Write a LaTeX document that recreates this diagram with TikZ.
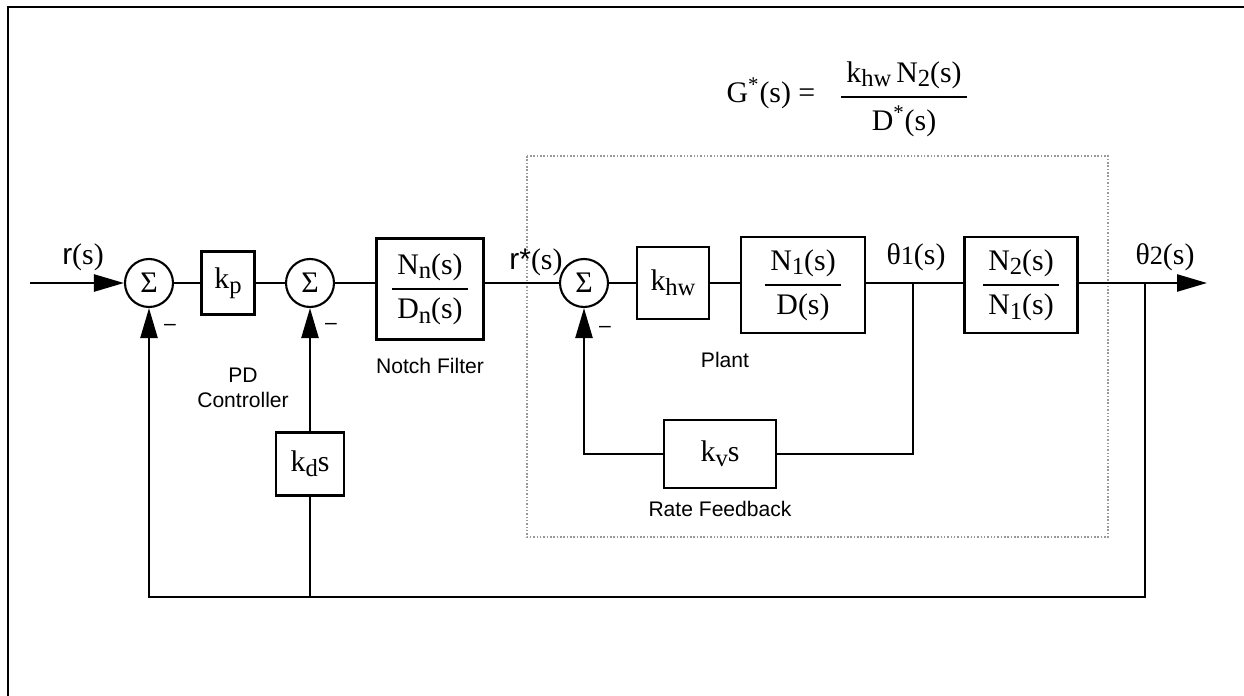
\documentclass[tikz,border=0pt]{standalone}
\usepackage{fontspec}
\usepackage{amsmath}
\setmainfont{Liberation Serif}
\newfontfamily\labelfont{Liberation Sans}
\usetikzlibrary{positioning}
\usetikzlibrary{arrows.meta}

\newcommand{\lo}[1]{\raisebox{-0.35ex}{\fontsize{14}{14}\selectfont #1}}
\newcommand{\bfrac}[2]{$\genfrac{}{}{1.4pt}{0}{\text{\,#1\,}}{\text{\,#2\,}}$}

\begin{document}
\begin{tikzpicture}[x=0.02cm, y=-0.02cm, line width=1.4pt,
    every node/.style={font=\fontsize{17}{20}\selectfont},
    blk/.style={draw, inner sep=0pt},
    sumnode/.style={draw, circle, minimum size=0.96cm, inner sep=0pt, line width=1.2pt},
    lbl/.style={font=\labelfont\fontsize{12}{14}\selectfont, align=center},
    plantbox/.style={draw=gray!80, densely dotted, line width=0.9pt},
    arr/.style={-{Triangle[length=0.6cm, width=0.34cm]}}]
    \useasboundingbox (0,0) rectangle (1244,696);
    \draw[line width=1.7pt] (8,696) -- (8,7) -- (1244,7);
    \draw[plantbox] (527,156) rectangle (1108,537);

    % forward path
    \node[sumnode] (s1) at (149,283) {Σ};
    \node[blk, minimum width=1.06cm, minimum height=1.26cm] (kp) at (228,283) {k\lo{p}};
    \node[sumnode] (s2) at (310,283) {Σ};
    \node[blk, minimum width=2.14cm, minimum height=2.02cm] (notch) at (430,289) {\bfrac{N\lo{n}(s)}{D\lo{n}(s)}};
    \node[sumnode] (s3) at (584,283) {Σ};
    \node[blk, minimum size=1.44cm] (khw) at (673,283) {k\lo{hw}};
    \node[blk, minimum width=2.48cm, minimum height=1.92cm] (g1) at (803,285) {\bfrac{N\lo{1}(s)}{D(s)}};
    \node[blk, minimum width=2.26cm, minimum height=1.92cm] (g2) at (1021,285) {\bfrac{N\lo{2}(s)}{N\lo{1}(s)}};

    % feedback blocks
    \node[blk, minimum width=1.36cm, minimum height=1.26cm] (kd) at (310,464) {k\lo{d}s};
    \node[blk, minimum width=2.24cm, minimum height=1.36cm] (kv) at (720,454) {k\lo{v}s};

    % signals and labels
    \node (rin) at (83,257) {{\labelfont r}(s)};
    \node (rstar) at (536,262) {{\labelfont r*}(s)};
    \node (th1) at (916,257) {θ{\fontsize{15}{15}\selectfont 1}(s)};
    \node (th2) at (1165,257) {θ{\fontsize{15}{15}\selectfont 2}(s)};
    \node[lbl] (m1) at (170,327) {–};
    \node[lbl] (m2) at (331,326) {–};
    \node[lbl] (m3) at (605,329) {–};
    \node[lbl] (pd) at (243,388) {PD\\Controller};
    \node[lbl, below=0.2cm of notch] (nf) {Notch Filter};
    \node[lbl] (pl) at (725,360) {Plant};
    \node[lbl, below=0.1cm of kv] (rf) {Rate Feedback};
    \node (gs) at (771,93) {G\textsuperscript{*}(s) =};
    \node (gf) at (904,99) {\bfrac{k\lo{hw}\,N\lo{2}(s)}{D\textsuperscript{*}(s)}};

    \coordinate (in) at (30,283);
    \coordinate (out) at (1207,283);
    \coordinate (b1) at (913,283);
    \coordinate (b2) at (1145,283);
    \coordinate (bot) at (1145,597);

    \draw[arr] (in) -- (s1);
    \draw (s1) -- (kp);
    \draw (kp) -- (s2);
    \draw (s2) -- (s2 -| notch.west);
    \draw (notch.east |- s3) -- (s3);
    \draw (s3) -- (khw);
    \draw (khw) -- (khw -| g1.west);
    \draw (g1.east |- b1) -- (g2.west |- b1);
    \draw[arr] (g2.east |- b2) -- (out);
    \draw (b1) -- (b1 |- kv) -- (kv);
    \draw[arr] (kv) -- (s3 |- kv) -- (s3);
    \draw[arr] (b2) -- (bot) -- (bot -| s1) -- (s1);
    \draw[arr] (kd) -- (s2);
    \draw (kd) -- (kd |- bot);
\end{tikzpicture}
\end{document}
